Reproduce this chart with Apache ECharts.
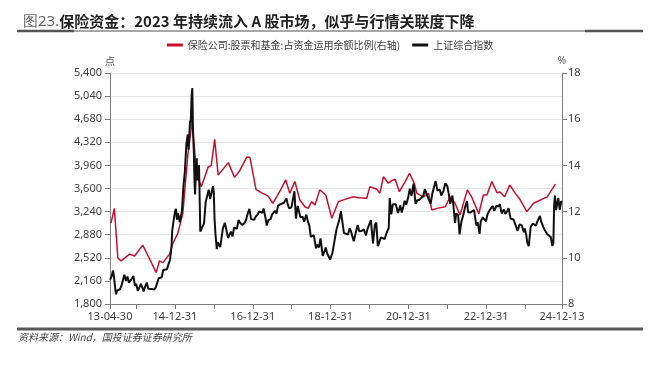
<!DOCTYPE html>
<html><head><meta charset="utf-8">
<script src="https://cdn.jsdelivr.net/npm/echarts@6/dist/echarts.min.js"></script>
<style>html,body{margin:0;padding:0;background:#fff}#c{width:660px;height:372px}</style>
</head><body><div id="c"></div>
<script>
// ---- data ----
const blackDates = [
'2013-04-30','2013-05-15','2013-05-29','2013-06-07','2013-06-25','2013-07-05','2013-07-19','2013-08-02','2013-08-16','2013-08-30','2013-09-12','2013-09-27','2013-10-11','2013-10-25','2013-11-08','2013-11-22','2013-12-06','2013-12-20','2013-12-31',
'2014-01-17','2014-01-30','2014-02-14','2014-02-28','2014-03-12','2014-03-21','2014-04-10','2014-04-25','2014-05-09','2014-05-23','2014-06-06','2014-06-20','2014-07-04','2014-07-18','2014-07-31','2014-08-15','2014-08-29','2014-09-12','2014-09-26','2014-10-17','2014-10-31','2014-11-14','2014-11-28','2014-12-05','2014-12-12','2014-12-19','2014-12-31',
'2015-01-09','2015-01-19','2015-01-30','2015-02-13','2015-03-06','2015-03-20','2015-04-03','2015-04-17','2015-04-30','2015-05-08','2015-05-22','2015-05-28','2015-06-05','2015-06-12','2015-06-19','2015-06-26','2015-07-03','2015-07-08','2015-07-17','2015-07-24','2015-07-27','2015-08-07','2015-08-14','2015-08-26','2015-09-15','2015-09-30','2015-10-16','2015-10-30','2015-11-13','2015-11-27','2015-12-11','2015-12-23','2015-12-31',
'2016-01-07','2016-01-15','2016-01-28','2016-02-05','2016-02-29','2016-03-11','2016-03-25','2016-04-13','2016-04-29','2016-05-13','2016-05-27','2016-06-08','2016-06-24','2016-07-08','2016-07-22','2016-08-05','2016-08-19','2016-09-02','2016-09-23','2016-10-14','2016-10-28','2016-11-11','2016-11-29','2016-12-16','2016-12-30',
'2017-01-13','2017-01-26','2017-02-17','2017-02-28','2017-03-17','2017-03-31','2017-04-11','2017-04-28','2017-05-11','2017-05-26','2017-06-16','2017-06-30','2017-07-14','2017-07-28','2017-08-11','2017-08-25','2017-09-15','2017-09-29','2017-10-20','2017-11-13','2017-11-24','2017-12-08','2017-12-29',
'2018-01-12','2018-01-26','2018-02-09','2018-02-26','2018-03-09','2018-03-23','2018-04-13','2018-04-27','2018-05-18','2018-05-31','2018-06-15','2018-06-29','2018-07-13','2018-07-27','2018-08-17','2018-08-31','2018-09-14','2018-09-28','2018-10-19','2018-10-31','2018-11-16','2018-11-30','2018-12-14','2018-12-28',
'2019-01-04','2019-01-18','2019-02-01','2019-02-25','2019-03-08','2019-03-22','2019-04-08','2019-04-19','2019-05-06','2019-05-17','2019-06-14','2019-06-28','2019-07-12','2019-07-26','2019-08-06','2019-08-23','2019-09-12','2019-09-27','2019-10-18','2019-11-08','2019-11-29','2019-12-13','2019-12-31',
'2020-01-14','2020-02-03','2020-02-21','2020-03-05','2020-03-19','2020-03-31','2020-04-17','2020-04-30','2020-05-22','2020-06-12','2020-06-30','2020-07-09','2020-07-24','2020-08-07','2020-08-21','2020-09-04','2020-09-25','2020-10-16','2020-10-30','2020-11-13','2020-11-27','2020-12-11','2020-12-31',
'2021-01-13','2021-01-29','2021-02-18','2021-03-09','2021-03-26','2021-04-16','2021-04-30','2021-05-21','2021-06-04','2021-06-18','2021-07-02','2021-07-28','2021-08-13','2021-08-27','2021-09-13','2021-09-30','2021-10-22','2021-11-05','2021-11-26','2021-12-13','2021-12-31',
'2022-01-14','2022-01-28','2022-02-18','2022-03-02','2022-03-15','2022-03-25','2022-04-13','2022-04-26','2022-05-13','2022-05-31','2022-06-17','2022-07-05','2022-07-15','2022-08-05','2022-08-19','2022-09-09','2022-09-30','2022-10-14','2022-10-31','2022-11-11','2022-11-30','2022-12-16','2022-12-30',
'2023-01-13','2023-01-31','2023-02-17','2023-03-03','2023-03-17','2023-04-07','2023-04-28','2023-05-09','2023-05-26','2023-06-16','2023-06-30','2023-07-14','2023-07-31','2023-08-18','2023-08-31','2023-09-15','2023-09-28','2023-10-23','2023-11-10','2023-11-30','2023-12-21','2023-12-29',
'2024-01-12','2024-01-22','2024-02-05','2024-02-23','2024-03-15','2024-03-29','2024-04-12','2024-04-26','2024-05-20','2024-05-31','2024-06-21','2024-07-05','2024-07-26','2024-08-09','2024-08-30','2024-09-13','2024-09-23','2024-09-30','2024-10-08','2024-10-18','2024-10-31','2024-11-08','2024-11-22','2024-12-06','2024-12-13'
];
const blackValues = [
2178,2230,2321,2210,1951,2007,1992,2030,2085,2098,2255,2160,2228,2133,2106,2197,2238,2084,2116,
2004,2033,2115,2056,1997,2047,2134,2036,2011,2034,2029,2026,2059,2059,2201,2226,2217,2331,2347,2341,2420,2478,2683,2938,2938,3108,3235,
3285,3116,3210,3075,3241,3617,3863,4287,4442,4205,4657,4620,5023,5166,4478,4192,3686,3507,3957,4070,3725,3744,3965,2927,3005,3053,3391,3383,3580,3436,3434,3636,3539,
3125,2901,2655,2763,2688,2810,2979,3066,2938,2827,2822,2927,2854,2988,3012,2976,3108,3067,3033,3064,3104,3196,3282,3123,3104,
3112,3159,3202,3242,3237,3223,3289,3155,3022,3107,3123,3192,3222,3253,3208,3331,3353,3348,3378,3447,3353,3289,3307,
3429,3558,3129,3329,3307,3152,3159,3082,3193,3095,3022,2847,2831,2873,2669,2725,2682,2821,2550,2603,2679,2588,2593,2494,
2514,2596,2618,2961,2969,3104,3245,3270,2906,2882,2881,2979,2930,2944,2777,2897,3031,2932,2938,2964,2871,2967,3050,
3106,2746,3039,3071,2702,2750,2838,2860,2813,2920,2985,3450,3197,3354,3380,3355,3219,3336,3225,3311,3408,3347,3473,
3598,3483,3675,3360,3418,3426,3447,3487,3592,3525,3519,3361,3517,3522,3715,3568,3583,3491,3564,3681,3640,
3521,3361,3491,3489,3064,3212,3186,2886,3084,3186,3316,3404,3228,3227,3258,3262,3024,3071,2893,3087,3151,3167,3089,
3195,3255,3224,3328,3250,3327,3323,3357,3212,3273,3202,3237,3291,3131,3119,3117,3110,2939,3038,3029,2919,2975,
2881,2756,2702,3004,3055,3041,3019,3088,3171,3087,2998,2950,2891,2862,2842,2704,2749,3336,3489,3261,3279,3452,3267,3404,3391
];
const redDates = [
'2013-05-09','2013-06-10','2013-07-13','2013-08-12','2013-10-31','2013-12-17','2014-03-03','2014-04-19','2014-07-08','2014-08-08','2014-09-09','2014-11-10','2014-12-12',
'2015-01-27','2015-03-15','2015-05-01','2015-06-10','2015-07-24','2015-09-05','2015-11-07','2015-12-07',
'2016-01-08','2016-02-10','2016-05-15','2016-07-13','2016-08-30','2016-11-03','2016-12-04',
'2017-01-30','2017-03-21','2017-05-21','2017-07-08','2017-09-09','2017-11-06','2017-12-13',
'2018-01-30','2018-03-18','2018-05-05','2018-06-04','2018-07-06','2018-08-07','2018-09-21','2018-11-17',
'2019-01-12','2019-03-15','2019-05-15','2019-08-04','2019-09-18','2019-12-06',
'2020-01-05','2020-03-10','2020-04-07','2020-05-11','2020-06-27','2020-07-27','2020-08-29','2020-10-08','2020-12-01',
'2021-01-11','2021-02-24','2021-03-21','2021-05-22','2021-07-09','2021-08-08','2021-09-24','2021-12-13',
'2022-01-27','2022-03-14','2022-05-01','2022-07-08','2022-08-17','2022-10-24','2022-12-05',
'2023-01-08','2023-02-23','2023-04-12','2023-05-11','2023-06-24','2023-08-10','2023-10-02','2023-11-18',
'2024-01-18','2024-03-21','2024-07-27','2024-10-12'
];
const redValues = [
11.5,12.14,9.98,9.87,10.16,10.08,10.55,10.12,9.36,9.87,9.79,10.16,10.63,
11.06,11.93,14.45,15.9,13.6,13.08,13.92,14.0,
15.13,13.58,14.12,13.48,13.77,14.35,14.35,
12.96,12.82,12.68,12.36,12.86,13.37,12.79,
13.3,12.5,12.21,12.14,12.43,12.29,12.94,12.72,
11.71,12.43,12.53,12.64,12.6,12.58,
13.08,12.97,12.79,13.51,13.23,13.34,13.4,12.86,13.3,
13.66,13.23,12.79,12.64,12.79,12.07,12.14,12.21,
12.64,12.36,11.85,12.94,12.64,11.9,12.72,
12.72,13.3,12.82,12.85,12.64,13.15,12.79,12.5,
12.0,12.36,12.64,13.19
];
const xTickDates = ['2013-04-30','2013-12-31','2014-12-31','2015-12-31','2016-12-31','2017-12-31','2018-12-31','2019-12-31','2020-12-31','2021-12-31','2022-12-31','2023-12-31','2024-12-13'];
const xLabelDates = ['2013-04-30','2014-12-31','2016-12-31','2018-12-31','2020-12-31','2022-12-31','2024-12-13'];
const leftRange = [1800, 5400, 360];
const rightRange = [8, 18, 2];
const seriesNames = ['保险公司:股票和基金:占资金运用余额比例(右轴)', '上证综合指数'];
const titleLead = '图23.';
const titleMain = '保险资金：2023 年持续流入 A 股市场，似乎与行情关联度下降';
const sourceText = '资料来源：Wind，国投证券证券研究所';

// ---- build ----
function ts(s){const p=s.split('-').map(Number);return Date.UTC(p[0],p[1]-1,p[2]);}
function pad(n){return (n<10?'0':'')+n;}
function fmtDate(v){const d=new Date(v);return String(d.getUTCFullYear()).slice(2)+'-'+pad(d.getUTCMonth()+1)+'-'+pad(d.getUTCDate());}
const blackData = blackDates.map((d,i)=>[ts(d),blackValues[i]]);
const redData = redDates.map((d,i)=>[ts(d),redValues[i]]);
const numFont = "'Noto Sans', 'Open Sans', sans-serif";
const cjkFont = "'Noto Sans CJK SC', sans-serif";
const axisGray = '#7f7f7f';

const chart = echarts.init(document.getElementById('c'), null, {renderer:'canvas'});
chart.setOption({
  animation:false,
  backgroundColor:'#fff',
  title:{
    text:'{a|'+titleLead+'}{b|'+titleMain+'}',
    left:18, top:9,
    textStyle:{rich:{
      a:{fontSize:15,fontFamily:numFont,color:'#666',fontWeight:'normal'},
      b:{fontSize:15,fontFamily:cjkFont,color:'#222',fontWeight:'bold'}
    }}
  },
  legend:{
    top:35, left:'center', itemWidth:16, itemHeight:3, itemGap:12, icon:'rect',
    textStyle:{fontSize:10,fontFamily:cjkFont,color:'#404040'},
    data:[seriesNames[0],seriesNames[1]]
  },
  grid:{left:110,right:98,top:73,bottom:68,containLabel:false},
  xAxis:{
    type:'value', min:ts(xTickDates[0]), max:ts(xTickDates[xTickDates.length-1]),
    axisLine:{show:true,lineStyle:{color:axisGray,width:1}},
    axisTick:{show:true,length:5,lineStyle:{color:axisGray},customValues:xTickDates.map(ts)},
    axisLabel:{customValues:xLabelDates.map(ts),formatter:function(v){return fmtDate(v);},
      fontSize:11,fontFamily:numFont,color:'#404040',margin:7,showMinLabel:true,showMaxLabel:true,hideOverlap:false},
    splitLine:{show:false}
  },
  yAxis:[{
    type:'value', min:leftRange[0], max:leftRange[1], interval:leftRange[2],
    name:'点', nameLocation:'end', nameGap:7,
    nameTextStyle:{fontSize:10,fontFamily:cjkFont,color:'#555',align:'center'},
    axisLine:{show:true,lineStyle:{color:axisGray}},
    axisTick:{show:true,length:5,lineStyle:{color:axisGray}},
    axisLabel:{fontSize:11,fontFamily:numFont,color:'#404040',margin:8,
      formatter:function(v){return v.toLocaleString('en-US');}},
    splitLine:{show:true,lineStyle:{color:'#e8e8e8',width:1}}
  },{
    type:'value', min:rightRange[0], max:rightRange[1], interval:rightRange[2], position:'right',
    name:'%', nameLocation:'end', nameGap:7,
    nameTextStyle:{fontSize:10,fontFamily:numFont,color:'#555',align:'center'},
    axisLine:{show:true,lineStyle:{color:axisGray}},
    axisTick:{show:true,length:5,lineStyle:{color:axisGray}},
    axisLabel:{fontSize:11,fontFamily:numFont,color:'#404040',margin:6},
    splitLine:{show:false}
  }],
  series:[{
    name:seriesNames[0], type:'line', yAxisIndex:1, data:redData, showSymbol:false, symbol:'none',
    lineStyle:{color:'#c8102e',width:1.5}, itemStyle:{color:'#c8102e'}
  },{
    name:seriesNames[1], type:'line', yAxisIndex:0, data:blackData, showSymbol:false, symbol:'none',
    lineStyle:{color:'#111',width:2}, itemStyle:{color:'#111'}
  }],
  graphic:[
    {type:'line',shape:{x1:17,y1:31,x2:643,y2:31},style:{stroke:'#8a8a8a',lineWidth:1.5}},
    {type:'line',shape:{x1:17,y1:31,x2:74,y2:31},style:{stroke:'#555',lineWidth:2.5}},
    {type:'line',shape:{x1:585,y1:31,x2:643,y2:31},style:{stroke:'#555',lineWidth:2.5}},
    {type:'line',shape:{x1:17,y1:329,x2:643,y2:329},style:{stroke:'#595959',lineWidth:3}},
    {type:'text',left:18,top:332,style:{text:sourceText,font:"italic 10px 'Noto Sans CJK SC', sans-serif",fill:'#444'}}
  ]
});
</script>
</body></html>
